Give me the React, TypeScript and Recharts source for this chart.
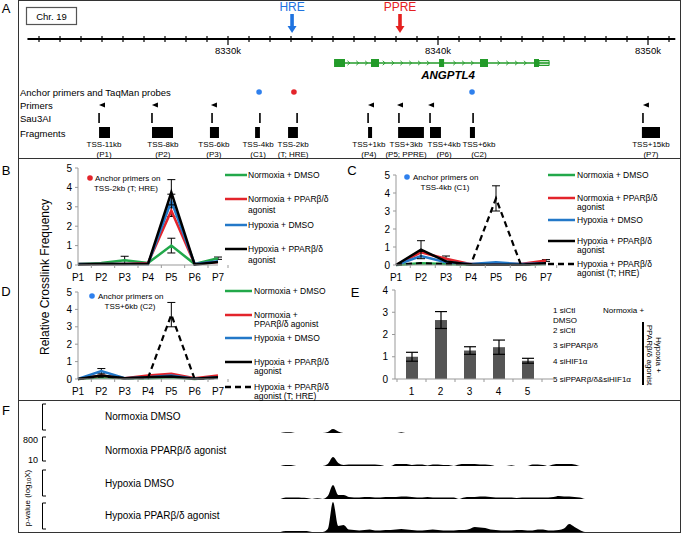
import React from 'react';
import {
  LineChart, Line, XAxis, YAxis, ErrorBar, BarChart, Bar,
  ScatterChart, Scatter, ReferenceLine, ReferenceArea, AreaChart, Area,
} from 'recharts';

const FONT = '"Liberation Sans", Arial, sans-serif';
const GREEN = '#22a84a';
const RED = '#e3242b';
const BLUE = '#2378c8';
const DOT_BLUE = '#2f80ed';
const GENE_GREEN = '#239b2a';
const AXIS_GREY = '#999';

// ---------- Panel A: genomic map (kb on chr19) ----------
const KB_DOMAIN: [number, number] = [8320.381, 8351.333];
const MAJOR_TICKS = [8330, 8340, 8350];
const MINOR_TICKS = [
  8321, 8322, 8323, 8324, 8325, 8326, 8327, 8328, 8329, 8330, 8331, 8332, 8333, 8334, 8335, 8336,
  8337, 8338, 8339, 8340, 8341, 8342, 8343, 8344, 8345, 8346, 8347, 8348, 8349, 8350, 8351,
];
const ELEMENTS = [
  { kb: 8333.05, name: 'HRE', color: '#1f73e0' },
  { kb: 8338.19, name: 'PPRE', color: '#e5201f' },
];
const GENE = { name: 'ANGPTL4', start: 8335.05, end: 8345.3 };
const EXONS: [number, number][] = [
  [8335.05, 8335.57], [8336.81, 8337.19], [8340.05, 8340.29], [8342.0, 8342.38], [8344.57, 8344.81],
];
const UTR3: [number, number] = [8344.81, 8345.29];
const ANCHORS = [
  { kb: 8331.48, color: DOT_BLUE },
  { kb: 8333.14, color: RED },
  { kb: 8341.62, color: DOT_BLUE },
];
const PRIMERS = [8324.0, 8326.52, 8329.33, 8336.81, 8338.19, 8339.67, 8349.9];
const SAU3AI = [8323.86, 8326.38, 8329.24, 8331.52, 8333.29, 8336.67, 8338.14, 8339.62, 8341.67, 8349.76];
const FRAGMENTS = [
  { start: 8323.86, end: 8324.38, tss: 'TSS-11kb', tag: '(P1)', labelKb: 8324.1 },
  { start: 8326.38, end: 8327.38, tss: 'TSS-8kb', tag: '(P2)', labelKb: 8326.9 },
  { start: 8329.14, end: 8329.57, tss: 'TSS-6kb', tag: '(P3)', labelKb: 8329.33 },
  { start: 8331.29, end: 8331.52, tss: 'TSS-4kb', tag: '(C1)', labelKb: 8331.43 },
  { start: 8332.86, end: 8333.33, tss: 'TSS-2kb', tag: '(T; HRE)', labelKb: 8333.1 },
  { start: 8336.67, end: 8336.86, tss: 'TSS+1kb', tag: '(P4)', labelKb: 8336.71 },
  { start: 8338.1, end: 8339.33, tss: 'TSS+3kb', tag: '(P5; PPRE)', labelKb: 8338.48 },
  { start: 8339.62, end: 8340.14, tss: 'TSS+4kb', tag: '(P6)', labelKb: 8340.29 },
  { start: 8341.52, end: 8341.76, tss: 'TSS+6kb', tag: '(C2)', labelKb: 8341.95 },
  { start: 8349.71, end: 8350.57, tss: 'TSS+15kb', tag: '(P7)', labelKb: 8350.14 },
];

// ---------- Panels B-D: 3C crosslink frequency ----------
const P_LABELS = ['P1', 'P2', 'P3', 'P4', 'P5', 'P6', 'P7'];

const B_NORM_DMSO = [0.05, 0.1, 0.25, 0.1, 1.0, 0.05, 0.35];
const B_NORM_DMSO_ERR = [null, null, 0.2, null, 0.38, null, 0.06];
const B_NORM_AGO = [0.05, 0.05, 0.05, 0.1, 2.8, 0.05, 0.15];
const B_NORM_AGO_ERR = [null, null, null, null, 0.3, null, null];
const B_HYP_DMSO = [0.05, 0.05, 0.05, 0.05, 3.3, 0.05, 0.2];
const B_HYP_DMSO_ERR = [null, null, null, null, 0.35, null, null];
const B_HYP_AGO = [0.02, 0.05, 0.05, 0.05, 3.75, 0.02, 0.15];
const B_HYP_AGO_ERR = [null, null, null, null, 0.65, null, null];

const C_NORM_DMSO = [0, 0.1, 0.05, 0.02, 0.02, 0.02, 0.05];
const C_NORM_AGO = [0, 0.7, 0.35, 0.05, 0.05, 0.05, 0.25];
const C_NORM_AGO_ERR = [null, null, 0.15, null, null, null, 0.05];
const C_HYP_DMSO = [0, 0.5, 0.15, 0.05, 0.15, 0.05, 0.1];
const C_HYP_AGO = [0, 0.85, 0.2, 0.02, 0.02, 0.02, 0.1];
const C_HYP_AGO_ERR = [null, 0.5, null, null, null, null, null];
const C_HYP_AGO_T = [0.02, 0.1, 0.05, 0.05, 3.7, 0, 0.1];
const C_HYP_AGO_T_ERR = [null, null, null, null, 0.7, null, null];

const D_NORM_DMSO = [0, 0.1, 0.05, 0.05, 0.1, 0, 0.1];
const D_NORM_AGO = [0, 0.2, 0.05, 0.2, 0.3, 0.05, 0.2];
const D_HYP_DMSO = [0, 0.45, 0.05, 0.1, 0.2, 0.02, 0.1];
const D_HYP_DMSO_ERR = [null, 0.15, null, null, null, null, null];
const D_HYP_AGO = [0, 0.2, 0.05, 0.1, 0.15, 0.02, 0.1];
const D_HYP_AGO_T = [0, 0.15, 0.05, 0.05, 3.7, 0, 0.05];
const D_HYP_AGO_T_ERR = [null, null, null, null, 0.7, null, null];

const LEGEND_BC = [
  ['Normoxia + DMSO'],
  ['Normoxia + PPARβ/δ', 'agonist'],
  ['Hypoxia + DMSO'],
  ['Hypoxia + PPARβ/δ', 'agonist'],
  ['Hypoxia + PPARβ/δ', 'agonist (T; HRE)'],
];
const LEGEND_D = [
  ['Normoxia + DMSO'],
  ['Normoxia +', 'PPARβ/δ agonist'],
  ['Hypoxia + DMSO'],
  ['Hypoxia + PPARβ/δ', 'agonist'],
  ['Hypoxia + PPARβ/δ', 'agonist (T; HRE)'],
];

// ---------- Panel E ----------
const E_CATS = ['1', '2', '3', '4', '5'];
const E_VALUES = [1.0, 2.65, 1.28, 1.43, 0.82];
const E_ERR = [0.2, 0.38, 0.17, 0.32, 0.11];
const E_LEGEND = ['1 siCtl', 'DMSO', '2 siCtl', '3 siPPARβ/δ', '4 siHIF1α', '5 siPPARβ/δ&siHIF1α'];

// ---------- Panel F: signal tracks, bins of 0.25 kb from 8332.5 kb ----------
const F_BIN_START = 8332.5;
const F_BIN_STEP = 0.25;
const F_TRACK_NAMES = ['Normoxia DMSO', 'Normoxia PPARβ/δ agonist', 'Hypoxia DMSO', 'Hypoxia PPARβ/δ agonist'];
const F_NORM_DMSO = [
  0, 0.8, 0.8, 0, 0, 0, 0, 0, 0, 1, 4, 1.5, 0, 0, 0, 0, 0, 0, 0, 0, 0, 0, 0, 0.8, 0, 0, 0, 0, 0, 0, 0,
  0, 0, 0, 0, 0, 0, 0, 0, 0, 0, 0, 0, 0, 0, 0, 0, 0, 0, 0, 0, 0, 0, 0, 0, 0, 0, 0, 0, 0, 0,
];
const F_NORM_AGO = [
  0, 1, 1, 0, 0, 0, 0, 0, 0, 2, 9, 3, 1, 1.5, 1.5, 1.5, 1.5, 1.5, 1.5, 1, 0, 0, 2, 2, 2, 1, 1.5, 1.5, 0.5, 1.5, 1.5,
  1, 1, 0, 1.5, 2, 2, 2, 1.5, 1.5, 1, 0, 0, 0, 0.8, 0, 0, 0, 1.5, 1.5, 1, 0, 1.5, 2, 2, 2, 1.5, 0, 0, 0, 0,
];
const F_HYP_DMSO = [
  0, 1.5, 1.5, 1.5, 1.2, 1, 0, 0.7, 0, 3, 14, 4, 4, 2, 1.5, 1.5, 2, 2, 1.5, 1.5, 2, 2, 2, 2.5, 2.5, 2, 1.5, 1.5, 2, 1.5, 1.5,
  1.5, 1.5, 1.5, 0, 1.5, 2, 2, 2.5, 2.5, 2, 1.5, 1.5, 1.5, 1.5, 1, 1.5, 1.5, 1.5, 1.5, 1.5, 1.5, 2, 3, 2.5, 2.5, 2, 1.5, 0, 0, 0,
];
const F_HYP_AGO = [
  0, 1, 1, 1, 1, 1, 0, 0, 0, 3, 30, 6, 7, 2.5, 2, 1.5, 2, 2.5, 1.5, 1.5, 2, 2, 2.5, 3, 2.5, 2, 1.5, 1.5, 2, 2.5, 2,
  1.5, 1.5, 1.5, 2, 2, 3, 5, 4.5, 4, 2.5, 2, 1.5, 1.5, 1.5, 2, 2, 1.5, 1.5, 2.5, 2.5, 1.5, 1.5, 2, 3.5, 8, 5, 2, 0, 0, 0,
];
const F_TRACKS = [F_NORM_DMSO, F_NORM_AGO, F_HYP_DMSO, F_HYP_AGO];

// ---------- helpers ----------
const rowsFrom = (cols: Record<string, (number | null)[]>) =>
  P_LABELS.map((p, i) => {
    const r: any = { p };
    Object.keys(cols).forEach((k) => { r[k] = cols[k][i]; });
    return r;
  });

const ROW = { tip: 33, axis: 39, gene: 63, anchor: 92, primer: 105, sau: 118, fragTop: 127, fragBot: 138, label: 144 };

const CHEVRONS: number[] = [];
for (let kb = GENE.start + 0.7; kb < UTR3[0] - 0.1; kb += 0.42) {
  if (!EXONS.some(([a, b]) => kb > a - 0.12 && kb < b + 0.12)) CHEVRONS.push(kb);
}

const makeCatTick = (half: number, count: number) => (props: any) => {
  const { x, y, payload, index } = props;
  const ay = y - 8;
  return (
    <g>
      <line x1={x - half} x2={x - half} y1={ay} y2={ay + 3} stroke={AXIS_GREY} />
      {index === count - 1 && <line x1={x + half} x2={x + half} y1={ay} y2={ay + 3} stroke={AXIS_GREY} />}
      <text x={x} y={ay + 12} textAnchor="middle" dominantBaseline="central" fontSize={10} fontFamily={FONT} fill="#000">
        {payload.value}
      </text>
    </g>
  );
};

type SeriesDef = { key: string; color: string; dashed?: boolean; err?: string };

function LinePanel(props: { rows: any[]; series: SeriesDef[]; left: number; top: number; yAxisW: number; plotW: number; plotH: number }) {
  const { rows, series, left, top, yAxisW, plotW, plotH } = props;
  const half = plotW / P_LABELS.length / 2;
  return (
    <div style={{ position: 'absolute', left, top }}>
      <LineChart width={yAxisW + plotW + 12} height={5 + plotH + 20} data={rows} margin={{ top: 5, right: 12, bottom: 0, left: 0 }}>
        <XAxis dataKey="p" interval={0} height={20} tickLine={false} tickSize={6} tickMargin={2}
          axisLine={{ stroke: AXIS_GREY }} tick={makeCatTick(half, P_LABELS.length)} />
        <YAxis type="number" domain={[0, 5]} ticks={[0, 1, 2, 3, 4, 5]} width={yAxisW} interval={0}
          tickSize={3} tickMargin={3} axisLine={{ stroke: AXIS_GREY }} tickLine={{ stroke: AXIS_GREY }}
          tick={{ fontSize: 10, fill: '#000', fontFamily: FONT }} />
        {series.map((s) => (
          <Line key={s.key} type="linear" dataKey={s.key} stroke={s.color} strokeWidth={s.dashed ? 2.2 : 2.5}
            strokeDasharray={s.dashed ? '6 4' : undefined} dot={false} isAnimationActive={false}>
            {s.err && <ErrorBar dataKey={s.err} width={4} stroke="#000" strokeWidth={1} direction="y" />}
          </Line>
        ))}
      </LineChart>
    </div>
  );
}

function LegendBlock({ x1, x2, tx, ys, gap, items, colors, dashed }: any) {
  return (
    <g>
      {items.map((lines: string[], i: number) => (
        <g key={i}>
          <line x1={x1} x2={x2} y1={ys[i]} y2={ys[i]} stroke={colors[i]} strokeWidth={2.5}
            strokeDasharray={dashed[i] ? '6 4' : undefined} />
          {lines.map((t, j) => (
            <text key={j} x={tx} y={ys[i] + j * gap} dominantBaseline="central" fontSize={8.5}>{t}</text>
          ))}
        </g>
      ))}
    </g>
  );
}

// scatter shapes for panel A
const AxisTickShape = (p: any) => {
  const major = p.payload.major;
  return (
    <g>
      <line x1={p.cx} x2={p.cx} y1={p.cy - 3} y2={p.cy + (major ? 6 : 3)} stroke="#000" strokeWidth={1.2} />
      {major && (
        <text x={p.cx} y={p.cy + 11} textAnchor="middle" dominantBaseline="central" fontSize={9.5} fontFamily={FONT}>
          {`${p.payload.kb}k`}
        </text>
      )}
    </g>
  );
};
const ArrowShape = (p: any) => {
  const { cx, cy, payload } = p;
  return (
    <g>
      <text x={cx} y={cy - 26} textAnchor="middle" dominantBaseline="central" fontSize={12} fill={payload.color} fontFamily={FONT}>
        {payload.name}
      </text>
      <rect x={cx - 1.8} y={cy - 19} width={3.6} height={13} fill={payload.color} />
      <polygon points={`${cx - 4.5},${cy - 7} ${cx + 4.5},${cy - 7} ${cx},${cy}`} fill={payload.color} />
    </g>
  );
};
const DotShape = (p: any) => <circle cx={p.cx} cy={p.cy} r={2.8} fill={p.payload.color} />;
const PrimerShape = (p: any) => (
  <polygon points={`${p.cx - 3},${p.cy} ${p.cx + 3},${p.cy - 2.6} ${p.cx + 3},${p.cy + 2.6}`} fill="#000" />
);
const SauShape = (p: any) => <rect x={p.cx - 0.8} y={p.cy - 5} width={1.6} height={10} fill="#000" />;
const ChevronShape = (p: any) => (
  <path d={`M${p.cx - 1.3},${p.cy - 2.2} L${p.cx + 1.2},${p.cy} L${p.cx - 1.3},${p.cy + 2.2}`} stroke={GENE_GREEN} strokeWidth={0.9} fill="none" />
);
const FragLabelShape = (p: any) => (
  <g fontFamily={FONT} fontSize={8} textAnchor="middle">
    <text x={p.cx} y={p.cy} dominantBaseline="central">{p.payload.tss}</text>
    <text x={p.cx} y={p.cy + 10} dominantBaseline="central">{p.payload.tag}</text>
  </g>
);

function PanelA() {
  const ticks = MINOR_TICKS.map((kb) => ({ kb, y: ROW.axis, major: MAJOR_TICKS.includes(kb) }));
  return (
    <div style={{ position: 'absolute', left: 0, top: 0 }}>
      <ScatterChart width={685} height={160} margin={{ top: 0, right: 9, bottom: 0, left: 26 }}>
        <XAxis type="number" dataKey="kb" domain={KB_DOMAIN} hide allowDataOverflow />
        <YAxis type="number" dataKey="y" domain={[0, 160]} reversed hide allowDataOverflow />
        <ReferenceLine segment={[{ x: 8320.45, y: ROW.axis }, { x: 8351.3, y: ROW.axis }]} stroke="#000" strokeWidth={1.8} ifOverflow="visible" />
        <ReferenceLine segment={[{ x: GENE.start, y: ROW.gene }, { x: GENE.end, y: ROW.gene }]} stroke={GENE_GREEN} strokeWidth={1.4} ifOverflow="visible" />
        {EXONS.map(([a, b], i) => (
          <ReferenceArea key={i} x1={a} x2={b} y1={ROW.gene - 4} y2={ROW.gene + 4} fill={GENE_GREEN} fillOpacity={1} stroke="none" ifOverflow="visible" />
        ))}
        <ReferenceArea x1={UTR3[0]} x2={UTR3[1]} y1={ROW.gene - 2.5} y2={ROW.gene + 2.5} fill="#c9e8c9" fillOpacity={1} stroke={GENE_GREEN} ifOverflow="visible" />
        {FRAGMENTS.map((f, i) => (
          <ReferenceArea key={i} x1={f.start} x2={f.end} y1={ROW.fragTop} y2={ROW.fragBot} fill="#000" fillOpacity={1} stroke="none" ifOverflow="visible" />
        ))}
        <Scatter data={ticks} shape={AxisTickShape} isAnimationActive={false} />
        <Scatter data={ELEMENTS.map((e) => ({ ...e, y: ROW.tip }))} shape={ArrowShape} isAnimationActive={false} />
        <Scatter data={CHEVRONS.map((kb) => ({ kb, y: ROW.gene }))} shape={ChevronShape} isAnimationActive={false} />
        <Scatter data={ANCHORS.map((a) => ({ ...a, y: ROW.anchor }))} shape={DotShape} isAnimationActive={false} />
        <Scatter data={PRIMERS.map((kb) => ({ kb, y: ROW.primer }))} shape={PrimerShape} isAnimationActive={false} />
        <Scatter data={SAU3AI.map((kb) => ({ kb, y: ROW.sau }))} shape={SauShape} isAnimationActive={false} />
        <Scatter data={FRAGMENTS.map((f) => ({ kb: f.labelKb, y: ROW.label, tss: f.tss, tag: f.tag }))} shape={FragLabelShape} isAnimationActive={false} />
      </ScatterChart>
    </div>
  );
}

function PanelE() {
  const rows = E_CATS.map((c, i) => ({ c, v: E_VALUES[i], e: E_ERR[i] }));
  const plotW = 160;
  return (
    <div style={{ position: 'absolute', left: 375, top: 285 }}>
      <BarChart width={20 + plotW + 2} height={5 + 89 + 20} data={rows} margin={{ top: 5, right: 2, bottom: 0, left: 0 }}>
        <XAxis dataKey="c" interval={0} height={20} tickLine={false} tickSize={6} tickMargin={2}
          padding={{ left: 2, right: 13 }} axisLine={{ stroke: AXIS_GREY }} tick={makeCatTick(14.5, E_CATS.length)} />
        <YAxis type="number" domain={[0, 4]} ticks={[0, 1, 2, 3, 4]} width={20} interval={0}
          tickSize={3} tickMargin={4} axisLine={{ stroke: AXIS_GREY }} tickLine={{ stroke: AXIS_GREY }}
          tick={{ fontSize: 10, fill: '#000', fontFamily: FONT }} />
        <Bar dataKey="v" fill="#555" barSize={12} isAnimationActive={false}>
          <ErrorBar dataKey="e" width={6} stroke="#000" strokeWidth={1.2} direction="y" />
        </Bar>
      </BarChart>
    </div>
  );
}

function TrackF({ values, baseline }: { values: number[]; baseline: number }) {
  const rows = values.map((v, i) => ({ kb: F_BIN_START + i * F_BIN_STEP, v }));
  return (
    <div style={{ position: 'absolute', left: 0, top: baseline - 30 }}>
      <AreaChart width={685} height={30} data={rows} margin={{ top: 0, right: 9, bottom: 0, left: 26 }}>
        <XAxis type="number" dataKey="kb" domain={KB_DOMAIN} hide allowDataOverflow />
        <YAxis type="number" domain={[0, 30]} hide allowDataOverflow />
        <Area type="monotone" dataKey="v" fill="#000" fillOpacity={1} stroke="none" baseValue={0} isAnimationActive={false} />
      </AreaChart>
    </div>
  );
}

export default function App() {
  const bRows = rowsFrom({
    nd: B_NORM_DMSO, ndE: B_NORM_DMSO_ERR, na: B_NORM_AGO, naE: B_NORM_AGO_ERR,
    hd: B_HYP_DMSO, hdE: B_HYP_DMSO_ERR, ha: B_HYP_AGO, haE: B_HYP_AGO_ERR,
  });
  const cRows = rowsFrom({
    nd: C_NORM_DMSO, na: C_NORM_AGO, naE: C_NORM_AGO_ERR, hd: C_HYP_DMSO,
    ha: C_HYP_AGO, haE: C_HYP_AGO_ERR, ht: C_HYP_AGO_T, htE: C_HYP_AGO_T_ERR,
  });
  const dRows = rowsFrom({
    nd: D_NORM_DMSO, na: D_NORM_AGO, hd: D_HYP_DMSO, hdE: D_HYP_DMSO_ERR,
    ha: D_HYP_AGO, ht: D_HYP_AGO_T, htE: D_HYP_AGO_T_ERR,
  });
  const base: SeriesDef[] = [
    { key: 'nd', color: GREEN, err: 'ndE' },
    { key: 'na', color: RED, err: 'naE' },
    { key: 'hd', color: BLUE, err: 'hdE' },
    { key: 'ha', color: '#000', err: 'haE' },
  ];
  const withT: SeriesDef[] = [...base, { key: 'ht', color: '#000', dashed: true, err: 'htE' }];
  const legColors = [GREEN, RED, BLUE, '#000', '#000'];
  const legDashed = [false, false, false, false, true];
  const trackBase = [433, 466, 499, 532];
  const brackets: [number, number][] = [[404, 430], [437, 461], [470, 496], [503, 529]];
  const trackLabelY = [416, 450, 483, 515];
  const eLegendY = [310.5, 320.5, 330.5, 345, 361, 379];

  return (
    <div style={{ position: 'absolute', left: 0, top: 0, width: 685, height: 534, background: '#fff', overflow: 'hidden', fontFamily: FONT }}>
      <svg width={685} height={534} style={{ position: 'absolute', left: 0, top: 0 }} fontFamily={FONT}>
        <rect x={18.5} y={0.5} width={662} height={532} fill="none" stroke="#333" strokeWidth={1} />
        <line x1={18.5} x2={680.5} y1={158.5} y2={158.5} stroke="#333" />
        <line x1={18.5} x2={680.5} y1={400.5} y2={400.5} stroke="#333" />
        {[['A', 6, 8], ['B', 6, 170], ['C', 352, 170], ['D', 6, 291], ['E', 355, 292], ['F', 6, 410]].map(([t, x, y]) => (
          <text key={t as string} x={x as number} y={y as number} fontSize={13} dominantBaseline="central" textAnchor="middle">{t}</text>
        ))}
        {/* panel A */}
        <rect x={26.5} y={7.5} width={50} height={17} fill="none" stroke="#555" strokeWidth={1.2} />
        <text x={51.5} y={16} fontSize={9.5} textAnchor="middle" dominantBaseline="central">Chr. 19</text>
        <text x={448} y={75} fontSize={11.5} fontWeight="bold" fontStyle="italic" textAnchor="middle" dominantBaseline="central">{GENE.name}</text>
        <text x={20} y={ROW.anchor} fontSize={9.5} dominantBaseline="central">Anchor primers and TaqMan probes</text>
        <text x={20} y={ROW.primer} fontSize={9.5} dominantBaseline="central">Primers</text>
        <text x={20} y={ROW.sau} fontSize={9.5} dominantBaseline="central">Sau3AI</text>
        <text x={20} y={133} fontSize={9.5} dominantBaseline="central">Fragments</text>
        {/* B/C/D annotations */}
        <circle cx={90} cy={178} r={2.8} fill={RED} />
        <text x={95} y={178} fontSize={8} dominantBaseline="central">Anchor primers on</text>
        <text x={126} y={188} fontSize={8} textAnchor="middle" dominantBaseline="central">TSS-2kb (T; HRE)</text>
        <circle cx={407} cy={177} r={2.8} fill={DOT_BLUE} />
        <text x={413} y={177} fontSize={8} dominantBaseline="central">Anchor primers on</text>
        <text x={445} y={187} fontSize={8} textAnchor="middle" dominantBaseline="central">TSS-4kb (C1)</text>
        <circle cx={92} cy={296} r={2.8} fill={DOT_BLUE} />
        <text x={98} y={296} fontSize={8} dominantBaseline="central">Anchor primers on</text>
        <text x={130} y={306} fontSize={8} textAnchor="middle" dominantBaseline="central">TSS+6kb (C2)</text>
        <text x={45} y={277} fontSize={12} textAnchor="middle" dominantBaseline="central" transform="rotate(-90 45 277)">
          Relative Crosslink Frequency
        </text>
        <LegendBlock x1={225} x2={247} tx={248} ys={[175, 199, 225, 249]} gap={10.5} items={LEGEND_BC.slice(0, 4)} colors={legColors} dashed={legDashed} />
        <LegendBlock x1={548} x2={575} tx={577} ys={[175, 198, 220, 241, 264]} gap={9} items={LEGEND_BC} colors={legColors} dashed={legDashed} />
        <LegendBlock x1={225} x2={252} tx={254} ys={[291, 315, 338, 362, 387]} gap={9} items={LEGEND_D} colors={legColors} dashed={legDashed} />
        {/* E legend */}
        {E_LEGEND.map((t, i) => (
          <text key={t} x={553} y={eLegendY[i]} fontSize={8} dominantBaseline="central">{t}</text>
        ))}
        <text x={603} y={310.5} fontSize={8} dominantBaseline="central">Normoxia +</text>
        <rect x={642} y={322} width={2} height={63} fill="#000" />
        <text x={658} y={355} fontSize={8} textAnchor="middle" dominantBaseline="central" transform="rotate(90 658 355)">Hypoxia +</text>
        <text x={649} y={355} fontSize={8} textAnchor="middle" dominantBaseline="central" transform="rotate(90 649 355)">PPARβ/δ agonist</text>
        {/* F */}
        {brackets.map(([a, b], i) => (
          <path key={i} d={`M46,${a} L42.5,${a} L42.5,${b} L46,${b}`} fill="none" stroke="#000" strokeWidth={1} />
        ))}
        {F_TRACK_NAMES.map((t, i) => (
          <text key={t} x={105} y={trackLabelY[i]} fontSize={10} dominantBaseline="central">{t}</text>
        ))}
        <text x={38} y={440} fontSize={9} textAnchor="end" dominantBaseline="central">800</text>
        <text x={38} y={460} fontSize={9} textAnchor="end" dominantBaseline="central">10</text>
        <text x={27} y={498} fontSize={8} textAnchor="middle" dominantBaseline="central" transform="rotate(-90 27 498)">
          <tspan>p-value (log</tspan><tspan fontSize={6} dy={2}>10</tspan><tspan dy={-2}>X)</tspan>
        </text>
      </svg>
      <PanelA />
      <LinePanel rows={bRows} series={base} left={58} top={163} yAxisW={20} plotW={140} plotH={97} />
      <LinePanel rows={cRows} series={withT} left={375} top={170} yAxisW={21} plotW={150} plotH={90} />
      <LinePanel rows={dRows} series={withT} left={58} top={287} yAxisW={20} plotW={140} plotH={87} />
      <PanelE />
      {F_TRACKS.map((v, i) => <TrackF key={i} values={v} baseline={trackBase[i]} />)}
    </div>
  );
}
